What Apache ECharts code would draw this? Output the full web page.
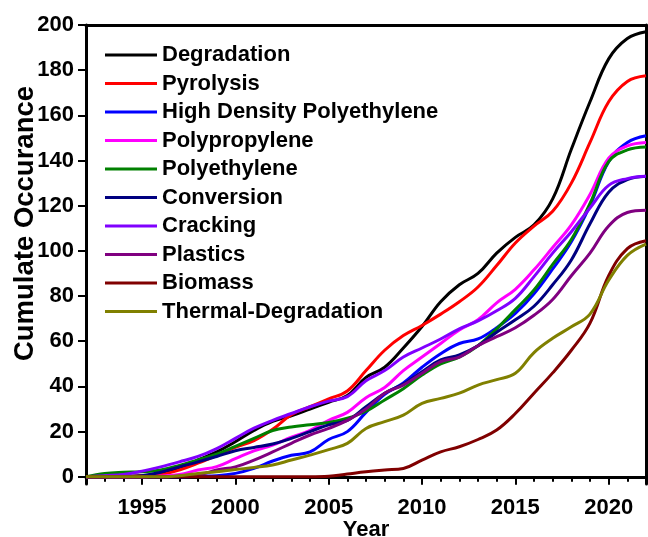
<!DOCTYPE html>
<html><head><meta charset="utf-8">
<script src="https://cdn.jsdelivr.net/npm/echarts@6/dist/echarts.min.js"></script>
<style>html,body{margin:0;padding:0;background:#fff}#c{width:648px;height:537px}</style>
</head><body><div id="c"></div>
<script>
const years = ['1992','1993','1994','1995','1996','1997','1998','1999','2000','2001','2002','2003','2004','2005','2006','2007','2008','2009','2010','2011','2012','2013','2014','2015','2016','2017','2018','2019','2020','2021','2022'];
const yTicks = [0,20,40,60,80,100,120,140,160,180,200];

const degradation   = [0,0,0.3,0.5,1.5,3.5,7.5,11,15.5,20.5,24.5,27,30,33,36,44,48.5,57,66.5,77.5,85,90,99,106,111.5,123,145,166,185,194,197];
const pyrolysis     = [0,0,0,0.5,1,3,6,9.5,13,16,21,27.5,31,34.5,38,47,56,62.5,67,72,77.5,84,93.5,103.5,111,117.5,130,148,166,175,177.5];
const hdpe          = [0,0,0,0,0,0,0.3,0.5,1.5,3.7,7,9.5,11,16.5,20,28.5,36.5,41.5,48.5,54.5,59,61,66,72.3,81,92,104,120,139.5,148,151];
const polypropylene = [0,0,0,0,0.3,1,3,4.5,8,11.5,14,17.5,20.5,25,28.5,35,39.5,47,53,59,65,69.5,77,83,91.6,101.5,111.5,125,141,146.5,148];
const polyethylene  = [0,1.5,2,2.2,3,5,7.5,10,13.5,17,20.5,22,23,24,25.9,29,34,39,45,50,53,58,65.5,74,82.7,94,105,121,139.5,144.7,146];
const conversion    = [0,0,0,0.5,2,4.4,6.6,9,11.5,13,14.5,17,20,23,25,31,37,41,46.5,51.7,54,58,64,69.5,75.5,85,96,112,126,131.5,133];
const cracking      = [0,0.5,1,2.5,4.4,6.6,9,12.5,17,21.5,25,28,31,33.5,35.5,42.5,47,53,57,61,65.5,69,73.5,79,88.6,99,108.5,119,129,132,133];
const plastics      = [0,0,0,0,0,0.3,0.7,3,4.4,7.4,11,14.8,18.5,21.4,25,30,37,40.6,45.8,51,53,58,62,66,71.5,78.5,89,99,111,117,118];
const biomass       = [0,0,0,0,0,0,0,0,0,0,0,0,0,0.2,1.2,2.2,3,3.7,7.4,11,13.3,16.5,20.7,28,37,46,56,68,89,101,104.5];
const thermalDeg    = [0,0,0,0,0,0.5,1.5,2.2,3.2,4.1,5.2,7.4,9.6,12,14.8,21.4,24.4,27.3,32.5,34.7,37,40.6,43,45.8,55,61.3,66.4,72,87,98,103];

const names  = ['Degradation','Pyrolysis','High Density Polyethylene','Polypropylene','Polyethylene','Conversion','Cracking','Plastics','Biomass','Thermal-Degradation'];
const values = [degradation,pyrolysis,hdpe,polypropylene,polyethylene,conversion,cracking,plastics,biomass,thermalDeg];
const colors = ['#000000','#FF0000','#0000FF','#FF00FF','#008000','#000080','#8000FF','#800080','#800000','#808000'];

const FF = '"Liberation Sans", Arial, sans-serif';
const txt = (size) => ({color:'#000', fontSize:size, fontWeight:'bold', fontFamily:FF});

const chart = echarts.init(document.getElementById('c'), null, {renderer:'canvas'});
chart.setOption({
  animation:false,
  backgroundColor:'#fff',
  grid:{left:86, right:2, top:25, bottom:53, containLabel:false, outerBoundsMode:'none'},
  legend:{
    data:names, orient:'vertical', left:105, top:44, padding:0,
    icon:'rect', itemWidth:52, itemHeight:3, itemGap:6.5,
    textStyle:Object.assign(txt(22), {lineHeight:22})
  },
  xAxis:[
    {type:'category', data:years, boundaryGap:false, position:'bottom',
     axisLine:{show:true, lineStyle:{color:'#000', width:3}},
     axisTick:{show:true, interval:0, length:5, lineStyle:{color:'#000', width:2}},
     axisLabel:Object.assign(txt(22), {interval:(i,v)=>(+v)%5===0, margin:13}),
     splitLine:{show:false},
     name:'Year', nameLocation:'middle', nameGap:35, nameMoveOverlap:false, nameTextStyle:txt(22)},
    {type:'category', data:years, boundaryGap:false, position:'bottom',
     axisLine:{show:false},
     axisTick:{show:true, interval:(i,v)=>(+v)%5===0, length:8, lineStyle:{color:'#000', width:2}},
     axisLabel:{show:false}, splitLine:{show:false}},
    {type:'category', data:years, boundaryGap:false, position:'top',
     axisLine:{show:true, lineStyle:{color:'#000', width:3}},
     axisTick:{show:false}, axisLabel:{show:false}, splitLine:{show:false}}
  ],
  yAxis:[
    {type:'value', min:-3.2, max:200, position:'left',
     axisLine:{show:true, lineStyle:{color:'#000', width:3}},
     axisTick:{show:true, length:8, customValues:yTicks, lineStyle:{color:'#000', width:2}},
     axisLabel:Object.assign(txt(22), {customValues:yTicks, margin:12}),
     splitLine:{show:false},
     name:'Cumulate Occurance', nameLocation:'middle', nameGap:47, nameMoveOverlap:false,
     nameTextStyle:Object.assign(txt(27.5), {padding:[0,0,0,62]})},
    {type:'value', min:-3.2, max:200, position:'right',
     axisLine:{show:true, lineStyle:{color:'#000', width:3}},
     axisTick:{show:false}, axisLabel:{show:false}, splitLine:{show:false}}
  ],
  series:names.map((n,i)=>({
    name:n, type:'line', xAxisIndex:0, yAxisIndex:0,
    data:values[i], smooth:0.4, showSymbol:false, symbol:'none',
    lineStyle:{color:colors[i], width:3}, itemStyle:{color:colors[i]}
  }))
});
</script>
</body></html>
